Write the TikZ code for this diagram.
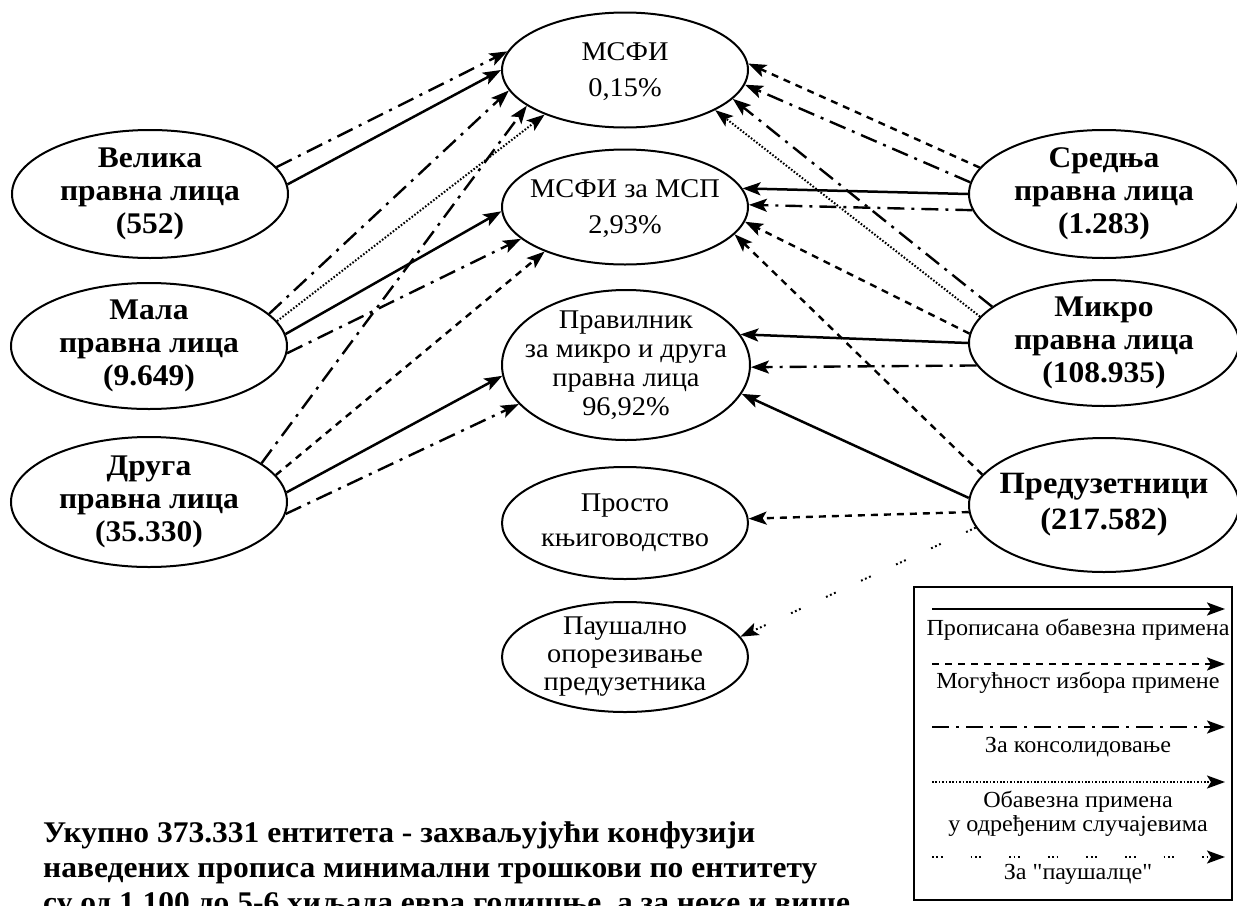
\documentclass[tikz,border=0pt]{standalone}
\usepackage{fontspec}
\setmainfont{Liberation Serif}[FakeStretch=1.05]
\newfontfamily\qfont{Liberation Serif}[FakeStretch=1.05]
\usetikzlibrary{arrows.meta,shapes.geometric}
\begin{document}
\begin{tikzpicture}[x=1pt,y=-1pt,
  ell/.style={draw, ellipse, line width=2pt, inner sep=0pt},
  lbl/.style={align=center, inner sep=0pt},
  big/.style={lbl, font=\fontsize{30}{33}\selectfont\bfseries},
  mid/.style={lbl, font=\fontsize{27}{36}\selectfont},
  legt/.style={anchor=base, inner sep=0pt, font=\fontsize{23}{25}\selectfont},
  tot/.style={anchor=base west, inner sep=0pt, font=\fontsize{30}{35}\selectfont\bfseries},
  arr/.style={-{Stealth[length=18pt,width=13pt,inset=4pt]}, line width=2.5pt},
  must/.style={arr},
  choice/.style={arr, line width=2.4pt, dash pattern=on 7pt off 6pt},
  consol/.style={arr, line width=2.4pt, dash pattern=on 17pt off 7pt on 3pt off 7pt},
  some/.style={arr, line width=2pt, dash pattern=on 1.6pt off 1.8pt},
  paus/.style={arr, line width=2pt, dash pattern=on 1.8pt off 2.6pt on 1.8pt off 2.6pt on 1.8pt off 28pt}
]
\useasboundingbox (0,0) rectangle (1237,905);

% center column
\node[ell, minimum width=246pt, minimum height=115pt] (msfi) at (625,70) {};
\node[mid] (msfit) at (625,72) {МСФИ\\0,15\%};
\node[ell, minimum width=246pt, minimum height=115pt] (msp) at (625,207) {};
\node[mid] (mspt) at (625,209) {МСФИ за МСП\\2,93\%};
\node[ell, minimum width=248pt, minimum height=150pt] (prav) at (626,365) {};
\node[lbl, font=\fontsize{27}{29}\selectfont] (pravt) at (prav) {Правилник\\за микро и друга\\правна лица\\96,92\%};
\node[ell, minimum width=246pt, minimum height=112pt] (prosto) at (625,523) {};
\node[lbl, font=\fontsize{27}{35}\selectfont] (prostot) at (prosto) {Просто\\књиговодство};
\node[ell, minimum width=246pt, minimum height=110pt] (paus) at (625,657) {};
\node[lbl, font=\fontsize{27}{28}\selectfont] (paust) at (paus) {Паушално\\опорезивање\\предузетника};

% left column
\node[ell, minimum width=276pt, minimum height=128pt] (vel) at (150,194) {};
\node[big] (velt) at (vel) {Велика\\правна лица\\(552)};
\node[ell, minimum width=276pt, minimum height=126pt] (mala) at (149,346) {};
\node[big] (malat) at (mala) {Мала\\правна лица\\(9.649)};
\node[ell, minimum width=276pt, minimum height=130pt] (druga) at (149,502) {};
\node[big] (drugat) at (druga) {Друга\\правна лица\\(35.330)};

% right column
\node[ell, minimum width=270pt, minimum height=128pt] (sred) at (1104,194) {};
\node[big] (sredt) at (sred) {Средња\\правна лица\\(1.283)};
\node[ell, minimum width=270pt, minimum height=126pt] (mikro) at (1104,343) {};
\node[big] (mikrot) at (mikro) {Микро\\правна лица\\(108.935)};
\node[ell, minimum width=270pt, minimum height=134pt] (pred) at (1104,505) {};
\node[big, font=\fontsize{31}{36}\selectfont\bfseries] (predt) at (pred) {Предузетници\\(217.582)};

% connectors from left
\draw[must]   (vel.4)    -- (msfi.180);
\draw[consol] (vel.12)   -- (msfi.171);
\draw[consol] (mala.15)  -- (msfi.190);
\draw[some]   (mala.11)  -- (msfi.209);
\draw[must]   (mala.5)   -- (msp.182);
\draw[consol] (mala.-3)  -- (msp.197);
\draw[consol] (druga.19) -- (msfi.200);
\draw[choice] (druga.12) -- (msp.209);
\draw[must]   (druga.4)  -- (prav.185);
\draw[consol] (druga.-5) -- (prav.200);

% connectors from right
\draw[choice] (sred.168)  -- (msfi.3);
\draw[consol] (sred.175)  -- (msfi.-7);
\draw[must]   (sred.180)  -- (msp.9);
\draw[consol] (sred.187)  -- (msp.1);
\draw[consol] (mikro.162) -- (msfi.-15);
\draw[some]   (mikro.168) -- (msfi.-24);
\draw[choice] (mikro.176) -- (msp.-7);
\draw[must]   (mikro.180) -- (prav.15);
\draw[consol] (mikro.190) -- (prav.-1);
\draw[choice] (pred.166)  -- (msp.-14);
\draw[must]   (pred.177)  -- (prav.-14);
\draw[choice] (pred.183)  -- (prosto.2);
\draw[paus]   (pred.190)  -- (paus.10);

% legend
\node[draw, line width=1.8pt, minimum width=318pt, minimum height=313pt, inner sep=0pt] (leg) at (1073,743.5) {};
\coordinate (l1a) at (932,609); \coordinate (l1b) at (1225,609);
\coordinate (l2a) at (932,664); \coordinate (l2b) at (1225,664);
\coordinate (l3a) at (932,727); \coordinate (l3b) at (1225,727);
\coordinate (l4a) at (932,782); \coordinate (l4b) at (1225,782);
\coordinate (l5a) at (932,857); \coordinate (l5b) at (1225,857);
\draw[must]   (l1a) -- (l1b);
\draw[choice] (l2a) -- (l2b);
\draw[consol] (l3a) -- (l3b);
\draw[some]   (l4a) -- (l4b);
\draw[paus]   (l5a) -- (l5b);
\node[legt] (lt1) at (1078,635) {Прописана обавезна примена};
\node[legt] (lt2) at (1078,688) {Могућност избора примене};
\node[legt] (lt3) at (1078,752) {За консолидовање};
\node[legt] (lt4a) at (1078,807) {Обавезна примена};
\node[legt] (lt4b) at (1078,831) {у одређеним случајевима};
\node[legt] (lt5) at (1078,879) {За {\qfont"}паушалце{\qfont"}};

% total text
\node[tot] (tot1) at (43,842) {Укупно 373.331 ентитета - захваљујући конфузији};
\node[tot] (tot2) at (43,877) {наведених прописа минимални трошкови по ентитету};
\node[tot] (tot3) at (43,912) {су од 1.100 до 5-6 хиљада евра годишње, а за неке и више};
\end{tikzpicture}
\end{document}
